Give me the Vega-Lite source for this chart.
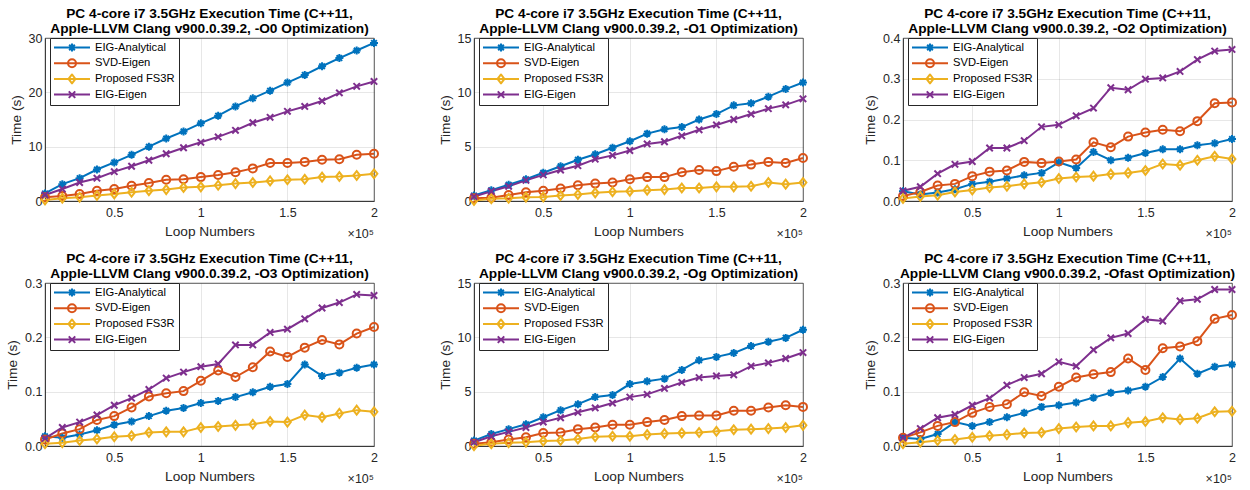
{
"$schema": "https://vega.github.io/schema/vega-lite/v6.json",
"background": "white",
"padding": {"left": 5, "top": 6, "right": 5, "bottom": 5},
"columns": 3,
"spacing": {"row": 82, "column": 100},
"bounds": "flush",
"config": {
  "font": "Liberation Sans",
  "view": {"stroke": "#262626", "strokeWidth": 0.75},
  "axis": {"labelFont": "Liberation Sans", "labelFontSize": 12.5, "labelColor": "#262626", "titleFont": "Liberation Sans", "titleFontSize": 13.7, "titleFontWeight": "normal", "titleColor": "#262626", "domainColor": "#262626", "domainWidth": 0.75, "ticks": false, "gridColor": "#262626", "gridOpacity": 0.15, "gridWidth": 0.75, "labelFlush": false, "labelOverlap": false, "labelBound": false},
  "axisX": {"labelPadding": 5, "titlePadding": 6},
  "axisY": {"labelPadding": 3, "titlePadding": 5},
  "title": {"font": "Liberation Sans", "fontSize": 13.7, "fontWeight": "bold", "color": "black", "lineHeight": 15, "offset": -4}
},
"datasets": {
"O0": [
{"n":10000,"m":"EIG-Analytical","t":1.4},{"n":20000,"m":"EIG-Analytical","t":3.1},{"n":30000,"m":"EIG-Analytical","t":4.2},{"n":40000,"m":"EIG-Analytical","t":5.8},{"n":50000,"m":"EIG-Analytical","t":7.1},{"n":60000,"m":"EIG-Analytical","t":8.5},{"n":70000,"m":"EIG-Analytical","t":10.0},{"n":80000,"m":"EIG-Analytical","t":11.5},{"n":90000,"m":"EIG-Analytical","t":12.8},{"n":100000,"m":"EIG-Analytical","t":14.3},{"n":110000,"m":"EIG-Analytical","t":15.7},{"n":120000,"m":"EIG-Analytical","t":17.4},{"n":130000,"m":"EIG-Analytical","t":18.9},{"n":140000,"m":"EIG-Analytical","t":20.3},{"n":150000,"m":"EIG-Analytical","t":21.8},{"n":160000,"m":"EIG-Analytical","t":23.2},{"n":170000,"m":"EIG-Analytical","t":24.8},{"n":180000,"m":"EIG-Analytical","t":26.3},{"n":190000,"m":"EIG-Analytical","t":27.7},{"n":200000,"m":"EIG-Analytical","t":29.1},
{"n":10000,"m":"SVD-Eigen","t":0.7},{"n":20000,"m":"SVD-Eigen","t":0.9},{"n":30000,"m":"SVD-Eigen","t":1.3},{"n":40000,"m":"SVD-Eigen","t":1.9},{"n":50000,"m":"SVD-Eigen","t":2.2},{"n":60000,"m":"SVD-Eigen","t":2.8},{"n":70000,"m":"SVD-Eigen","t":3.3},{"n":80000,"m":"SVD-Eigen","t":3.9},{"n":90000,"m":"SVD-Eigen","t":4.0},{"n":100000,"m":"SVD-Eigen","t":4.4},{"n":110000,"m":"SVD-Eigen","t":4.8},{"n":120000,"m":"SVD-Eigen","t":5.3},{"n":130000,"m":"SVD-Eigen","t":6.0},{"n":140000,"m":"SVD-Eigen","t":7.0},{"n":150000,"m":"SVD-Eigen","t":7.0},{"n":160000,"m":"SVD-Eigen","t":7.2},{"n":170000,"m":"SVD-Eigen","t":7.6},{"n":180000,"m":"SVD-Eigen","t":7.7},{"n":190000,"m":"SVD-Eigen","t":8.5},{"n":200000,"m":"SVD-Eigen","t":8.7},
{"n":10000,"m":"Proposed FS3R","t":0.2},{"n":20000,"m":"Proposed FS3R","t":0.5},{"n":30000,"m":"Proposed FS3R","t":0.7},{"n":40000,"m":"Proposed FS3R","t":1.0},{"n":50000,"m":"Proposed FS3R","t":1.3},{"n":60000,"m":"Proposed FS3R","t":1.6},{"n":70000,"m":"Proposed FS3R","t":1.9},{"n":80000,"m":"Proposed FS3R","t":2.1},{"n":90000,"m":"Proposed FS3R","t":2.5},{"n":100000,"m":"Proposed FS3R","t":2.6},{"n":110000,"m":"Proposed FS3R","t":2.9},{"n":120000,"m":"Proposed FS3R","t":3.2},{"n":130000,"m":"Proposed FS3R","t":3.4},{"n":140000,"m":"Proposed FS3R","t":3.7},{"n":150000,"m":"Proposed FS3R","t":3.9},{"n":160000,"m":"Proposed FS3R","t":4.0},{"n":170000,"m":"Proposed FS3R","t":4.4},{"n":180000,"m":"Proposed FS3R","t":4.5},{"n":190000,"m":"Proposed FS3R","t":4.7},{"n":200000,"m":"Proposed FS3R","t":5.0},
{"n":10000,"m":"EIG-Eigen","t":1.1},{"n":20000,"m":"EIG-Eigen","t":2.2},{"n":30000,"m":"EIG-Eigen","t":3.4},{"n":40000,"m":"EIG-Eigen","t":4.2},{"n":50000,"m":"EIG-Eigen","t":5.4},{"n":60000,"m":"EIG-Eigen","t":6.4},{"n":70000,"m":"EIG-Eigen","t":7.5},{"n":80000,"m":"EIG-Eigen","t":8.7},{"n":90000,"m":"EIG-Eigen","t":9.8},{"n":100000,"m":"EIG-Eigen","t":10.8},{"n":110000,"m":"EIG-Eigen","t":11.8},{"n":120000,"m":"EIG-Eigen","t":13.0},{"n":130000,"m":"EIG-Eigen","t":14.4},{"n":140000,"m":"EIG-Eigen","t":15.4},{"n":150000,"m":"EIG-Eigen","t":16.5},{"n":160000,"m":"EIG-Eigen","t":17.4},{"n":170000,"m":"EIG-Eigen","t":18.4},{"n":180000,"m":"EIG-Eigen","t":19.9},{"n":190000,"m":"EIG-Eigen","t":21.1},{"n":200000,"m":"EIG-Eigen","t":22.0}
],
"O1": [
{"n":10000,"m":"EIG-Analytical","t":0.5},{"n":20000,"m":"EIG-Analytical","t":1.0},{"n":30000,"m":"EIG-Analytical","t":1.5},{"n":40000,"m":"EIG-Analytical","t":2.0},{"n":50000,"m":"EIG-Analytical","t":2.6},{"n":60000,"m":"EIG-Analytical","t":3.2},{"n":70000,"m":"EIG-Analytical","t":3.8},{"n":80000,"m":"EIG-Analytical","t":4.3},{"n":90000,"m":"EIG-Analytical","t":4.9},{"n":100000,"m":"EIG-Analytical","t":5.5},{"n":110000,"m":"EIG-Analytical","t":6.2},{"n":120000,"m":"EIG-Analytical","t":6.6},{"n":130000,"m":"EIG-Analytical","t":6.8},{"n":140000,"m":"EIG-Analytical","t":7.5},{"n":150000,"m":"EIG-Analytical","t":8.0},{"n":160000,"m":"EIG-Analytical","t":8.8},{"n":170000,"m":"EIG-Analytical","t":9.0},{"n":180000,"m":"EIG-Analytical","t":9.6},{"n":190000,"m":"EIG-Analytical","t":10.3},{"n":200000,"m":"EIG-Analytical","t":10.9},
{"n":10000,"m":"SVD-Eigen","t":0.25},{"n":20000,"m":"SVD-Eigen","t":0.3},{"n":30000,"m":"SVD-Eigen","t":0.55},{"n":40000,"m":"SVD-Eigen","t":0.8},{"n":50000,"m":"SVD-Eigen","t":0.95},{"n":60000,"m":"SVD-Eigen","t":1.15},{"n":70000,"m":"SVD-Eigen","t":1.45},{"n":80000,"m":"SVD-Eigen","t":1.6},{"n":90000,"m":"SVD-Eigen","t":1.7},{"n":100000,"m":"SVD-Eigen","t":2.0},{"n":110000,"m":"SVD-Eigen","t":2.2},{"n":120000,"m":"SVD-Eigen","t":2.2},{"n":130000,"m":"SVD-Eigen","t":2.65},{"n":140000,"m":"SVD-Eigen","t":2.85},{"n":150000,"m":"SVD-Eigen","t":2.75},{"n":160000,"m":"SVD-Eigen","t":3.15},{"n":170000,"m":"SVD-Eigen","t":3.35},{"n":180000,"m":"SVD-Eigen","t":3.6},{"n":190000,"m":"SVD-Eigen","t":3.5},{"n":200000,"m":"SVD-Eigen","t":3.95},
{"n":10000,"m":"Proposed FS3R","t":0.05},{"n":20000,"m":"Proposed FS3R","t":0.2},{"n":30000,"m":"Proposed FS3R","t":0.25},{"n":40000,"m":"Proposed FS3R","t":0.35},{"n":50000,"m":"Proposed FS3R","t":0.37},{"n":60000,"m":"Proposed FS3R","t":0.5},{"n":70000,"m":"Proposed FS3R","t":0.6},{"n":80000,"m":"Proposed FS3R","t":0.75},{"n":90000,"m":"Proposed FS3R","t":0.85},{"n":100000,"m":"Proposed FS3R","t":0.9},{"n":110000,"m":"Proposed FS3R","t":1.0},{"n":120000,"m":"Proposed FS3R","t":1.05},{"n":130000,"m":"Proposed FS3R","t":1.2},{"n":140000,"m":"Proposed FS3R","t":1.2},{"n":150000,"m":"Proposed FS3R","t":1.3},{"n":160000,"m":"Proposed FS3R","t":1.3},{"n":170000,"m":"Proposed FS3R","t":1.35},{"n":180000,"m":"Proposed FS3R","t":1.7},{"n":190000,"m":"Proposed FS3R","t":1.55},{"n":200000,"m":"Proposed FS3R","t":1.7},
{"n":10000,"m":"EIG-Eigen","t":0.4},{"n":20000,"m":"EIG-Eigen","t":0.9},{"n":30000,"m":"EIG-Eigen","t":1.35},{"n":40000,"m":"EIG-Eigen","t":1.9},{"n":50000,"m":"EIG-Eigen","t":2.4},{"n":60000,"m":"EIG-Eigen","t":2.85},{"n":70000,"m":"EIG-Eigen","t":3.25},{"n":80000,"m":"EIG-Eigen","t":3.85},{"n":90000,"m":"EIG-Eigen","t":4.2},{"n":100000,"m":"EIG-Eigen","t":4.65},{"n":110000,"m":"EIG-Eigen","t":5.25},{"n":120000,"m":"EIG-Eigen","t":5.45},{"n":130000,"m":"EIG-Eigen","t":6.0},{"n":140000,"m":"EIG-Eigen","t":6.55},{"n":150000,"m":"EIG-Eigen","t":7.0},{"n":160000,"m":"EIG-Eigen","t":7.5},{"n":170000,"m":"EIG-Eigen","t":8.0},{"n":180000,"m":"EIG-Eigen","t":8.5},{"n":190000,"m":"EIG-Eigen","t":8.85},{"n":200000,"m":"EIG-Eigen","t":9.4}
],
"O2": [
{"n":10000,"m":"EIG-Analytical","t":0.024},{"n":20000,"m":"EIG-Analytical","t":0.016},{"n":30000,"m":"EIG-Analytical","t":0.021},{"n":40000,"m":"EIG-Analytical","t":0.029},{"n":50000,"m":"EIG-Analytical","t":0.042},{"n":60000,"m":"EIG-Analytical","t":0.047},{"n":70000,"m":"EIG-Analytical","t":0.055},{"n":80000,"m":"EIG-Analytical","t":0.063},{"n":90000,"m":"EIG-Analytical","t":0.069},{"n":100000,"m":"EIG-Analytical","t":0.095},{"n":110000,"m":"EIG-Analytical","t":0.081},{"n":120000,"m":"EIG-Analytical","t":0.12},{"n":130000,"m":"EIG-Analytical","t":0.1},{"n":140000,"m":"EIG-Analytical","t":0.106},{"n":150000,"m":"EIG-Analytical","t":0.118},{"n":160000,"m":"EIG-Analytical","t":0.127},{"n":170000,"m":"EIG-Analytical","t":0.127},{"n":180000,"m":"EIG-Analytical","t":0.137},{"n":190000,"m":"EIG-Analytical","t":0.142},{"n":200000,"m":"EIG-Analytical","t":0.152},
{"n":10000,"m":"SVD-Eigen","t":0.012},{"n":20000,"m":"SVD-Eigen","t":0.022},{"n":30000,"m":"SVD-Eigen","t":0.038},{"n":40000,"m":"SVD-Eigen","t":0.042},{"n":50000,"m":"SVD-Eigen","t":0.061},{"n":60000,"m":"SVD-Eigen","t":0.072},{"n":70000,"m":"SVD-Eigen","t":0.075},{"n":80000,"m":"SVD-Eigen","t":0.096},{"n":90000,"m":"SVD-Eigen","t":0.093},{"n":100000,"m":"SVD-Eigen","t":0.097},{"n":110000,"m":"SVD-Eigen","t":0.102},{"n":120000,"m":"SVD-Eigen","t":0.144},{"n":130000,"m":"SVD-Eigen","t":0.132},{"n":140000,"m":"SVD-Eigen","t":0.158},{"n":150000,"m":"SVD-Eigen","t":0.168},{"n":160000,"m":"SVD-Eigen","t":0.175},{"n":170000,"m":"SVD-Eigen","t":0.171},{"n":180000,"m":"SVD-Eigen","t":0.196},{"n":190000,"m":"SVD-Eigen","t":0.24},{"n":200000,"m":"SVD-Eigen","t":0.242},
{"n":10000,"m":"Proposed FS3R","t":0.006},{"n":20000,"m":"Proposed FS3R","t":0.011},{"n":30000,"m":"Proposed FS3R","t":0.014},{"n":40000,"m":"Proposed FS3R","t":0.022},{"n":50000,"m":"Proposed FS3R","t":0.027},{"n":60000,"m":"Proposed FS3R","t":0.033},{"n":70000,"m":"Proposed FS3R","t":0.036},{"n":80000,"m":"Proposed FS3R","t":0.042},{"n":90000,"m":"Proposed FS3R","t":0.046},{"n":100000,"m":"Proposed FS3R","t":0.055},{"n":110000,"m":"Proposed FS3R","t":0.059},{"n":120000,"m":"Proposed FS3R","t":0.061},{"n":130000,"m":"Proposed FS3R","t":0.066},{"n":140000,"m":"Proposed FS3R","t":0.069},{"n":150000,"m":"Proposed FS3R","t":0.075},{"n":160000,"m":"Proposed FS3R","t":0.091},{"n":170000,"m":"Proposed FS3R","t":0.088},{"n":180000,"m":"Proposed FS3R","t":0.1},{"n":190000,"m":"Proposed FS3R","t":0.11},{"n":200000,"m":"Proposed FS3R","t":0.103},
{"n":10000,"m":"EIG-Eigen","t":0.025},{"n":20000,"m":"EIG-Eigen","t":0.035},{"n":30000,"m":"EIG-Eigen","t":0.067},{"n":40000,"m":"EIG-Eigen","t":0.09},{"n":50000,"m":"EIG-Eigen","t":0.097},{"n":60000,"m":"EIG-Eigen","t":0.13},{"n":70000,"m":"EIG-Eigen","t":0.13},{"n":80000,"m":"EIG-Eigen","t":0.148},{"n":90000,"m":"EIG-Eigen","t":0.182},{"n":100000,"m":"EIG-Eigen","t":0.187},{"n":110000,"m":"EIG-Eigen","t":0.209},{"n":120000,"m":"EIG-Eigen","t":0.228},{"n":130000,"m":"EIG-Eigen","t":0.278},{"n":140000,"m":"EIG-Eigen","t":0.273},{"n":150000,"m":"EIG-Eigen","t":0.299},{"n":160000,"m":"EIG-Eigen","t":0.302},{"n":170000,"m":"EIG-Eigen","t":0.318},{"n":180000,"m":"EIG-Eigen","t":0.347},{"n":190000,"m":"EIG-Eigen","t":0.368},{"n":200000,"m":"EIG-Eigen","t":0.372}
],
"O3": [
{"n":10000,"m":"EIG-Analytical","t":0.018},{"n":20000,"m":"EIG-Analytical","t":0.015},{"n":30000,"m":"EIG-Analytical","t":0.021},{"n":40000,"m":"EIG-Analytical","t":0.029},{"n":50000,"m":"EIG-Analytical","t":0.039},{"n":60000,"m":"EIG-Analytical","t":0.045},{"n":70000,"m":"EIG-Analytical","t":0.055},{"n":80000,"m":"EIG-Analytical","t":0.065},{"n":90000,"m":"EIG-Analytical","t":0.07},{"n":100000,"m":"EIG-Analytical","t":0.079},{"n":110000,"m":"EIG-Analytical","t":0.083},{"n":120000,"m":"EIG-Analytical","t":0.09},{"n":130000,"m":"EIG-Analytical","t":0.099},{"n":140000,"m":"EIG-Analytical","t":0.109},{"n":150000,"m":"EIG-Analytical","t":0.114},{"n":160000,"m":"EIG-Analytical","t":0.15},{"n":170000,"m":"EIG-Analytical","t":0.129},{"n":180000,"m":"EIG-Analytical","t":0.135},{"n":190000,"m":"EIG-Analytical","t":0.144},{"n":200000,"m":"EIG-Analytical","t":0.15},
{"n":10000,"m":"SVD-Eigen","t":0.012},{"n":20000,"m":"SVD-Eigen","t":0.023},{"n":30000,"m":"SVD-Eigen","t":0.031},{"n":40000,"m":"SVD-Eigen","t":0.048},{"n":50000,"m":"SVD-Eigen","t":0.055},{"n":60000,"m":"SVD-Eigen","t":0.071},{"n":70000,"m":"SVD-Eigen","t":0.091},{"n":80000,"m":"SVD-Eigen","t":0.097},{"n":90000,"m":"SVD-Eigen","t":0.101},{"n":100000,"m":"SVD-Eigen","t":0.12},{"n":110000,"m":"SVD-Eigen","t":0.139},{"n":120000,"m":"SVD-Eigen","t":0.127},{"n":130000,"m":"SVD-Eigen","t":0.145},{"n":140000,"m":"SVD-Eigen","t":0.174},{"n":150000,"m":"SVD-Eigen","t":0.164},{"n":160000,"m":"SVD-Eigen","t":0.181},{"n":170000,"m":"SVD-Eigen","t":0.195},{"n":180000,"m":"SVD-Eigen","t":0.187},{"n":190000,"m":"SVD-Eigen","t":0.207},{"n":200000,"m":"SVD-Eigen","t":0.219},
{"n":10000,"m":"Proposed FS3R","t":0.004},{"n":20000,"m":"Proposed FS3R","t":0.006},{"n":30000,"m":"Proposed FS3R","t":0.01},{"n":40000,"m":"Proposed FS3R","t":0.013},{"n":50000,"m":"Proposed FS3R","t":0.017},{"n":60000,"m":"Proposed FS3R","t":0.019},{"n":70000,"m":"Proposed FS3R","t":0.025},{"n":80000,"m":"Proposed FS3R","t":0.026},{"n":90000,"m":"Proposed FS3R","t":0.026},{"n":100000,"m":"Proposed FS3R","t":0.034},{"n":110000,"m":"Proposed FS3R","t":0.036},{"n":120000,"m":"Proposed FS3R","t":0.038},{"n":130000,"m":"Proposed FS3R","t":0.04},{"n":140000,"m":"Proposed FS3R","t":0.045},{"n":150000,"m":"Proposed FS3R","t":0.044},{"n":160000,"m":"Proposed FS3R","t":0.057},{"n":170000,"m":"Proposed FS3R","t":0.053},{"n":180000,"m":"Proposed FS3R","t":0.06},{"n":190000,"m":"Proposed FS3R","t":0.066},{"n":200000,"m":"Proposed FS3R","t":0.063},
{"n":10000,"m":"EIG-Eigen","t":0.014},{"n":20000,"m":"EIG-Eigen","t":0.034},{"n":30000,"m":"EIG-Eigen","t":0.044},{"n":40000,"m":"EIG-Eigen","t":0.057},{"n":50000,"m":"EIG-Eigen","t":0.075},{"n":60000,"m":"EIG-Eigen","t":0.088},{"n":70000,"m":"EIG-Eigen","t":0.104},{"n":80000,"m":"EIG-Eigen","t":0.125},{"n":90000,"m":"EIG-Eigen","t":0.136},{"n":100000,"m":"EIG-Eigen","t":0.146},{"n":110000,"m":"EIG-Eigen","t":0.151},{"n":120000,"m":"EIG-Eigen","t":0.186},{"n":130000,"m":"EIG-Eigen","t":0.186},{"n":140000,"m":"EIG-Eigen","t":0.209},{"n":150000,"m":"EIG-Eigen","t":0.215},{"n":160000,"m":"EIG-Eigen","t":0.234},{"n":170000,"m":"EIG-Eigen","t":0.254},{"n":180000,"m":"EIG-Eigen","t":0.264},{"n":190000,"m":"EIG-Eigen","t":0.279},{"n":200000,"m":"EIG-Eigen","t":0.277}
],
"Og": [
{"n":10000,"m":"EIG-Analytical","t":0.5},{"n":20000,"m":"EIG-Analytical","t":1.1},{"n":30000,"m":"EIG-Analytical","t":1.55},{"n":40000,"m":"EIG-Analytical","t":2.0},{"n":50000,"m":"EIG-Analytical","t":2.65},{"n":60000,"m":"EIG-Analytical","t":3.3},{"n":70000,"m":"EIG-Analytical","t":3.85},{"n":80000,"m":"EIG-Analytical","t":4.5},{"n":90000,"m":"EIG-Analytical","t":4.7},{"n":100000,"m":"EIG-Analytical","t":5.7},{"n":110000,"m":"EIG-Analytical","t":5.95},{"n":120000,"m":"EIG-Analytical","t":6.2},{"n":130000,"m":"EIG-Analytical","t":7.0},{"n":140000,"m":"EIG-Analytical","t":7.9},{"n":150000,"m":"EIG-Analytical","t":8.2},{"n":160000,"m":"EIG-Analytical","t":8.55},{"n":170000,"m":"EIG-Analytical","t":9.2},{"n":180000,"m":"EIG-Analytical","t":9.6},{"n":190000,"m":"EIG-Analytical","t":9.95},{"n":200000,"m":"EIG-Analytical","t":10.7},
{"n":10000,"m":"SVD-Eigen","t":0.2},{"n":20000,"m":"SVD-Eigen","t":0.35},{"n":30000,"m":"SVD-Eigen","t":0.6},{"n":40000,"m":"SVD-Eigen","t":0.8},{"n":50000,"m":"SVD-Eigen","t":1.2},{"n":60000,"m":"SVD-Eigen","t":1.25},{"n":70000,"m":"SVD-Eigen","t":1.55},{"n":80000,"m":"SVD-Eigen","t":1.7},{"n":90000,"m":"SVD-Eigen","t":1.95},{"n":100000,"m":"SVD-Eigen","t":1.95},{"n":110000,"m":"SVD-Eigen","t":2.2},{"n":120000,"m":"SVD-Eigen","t":2.4},{"n":130000,"m":"SVD-Eigen","t":2.75},{"n":140000,"m":"SVD-Eigen","t":2.8},{"n":150000,"m":"SVD-Eigen","t":2.8},{"n":160000,"m":"SVD-Eigen","t":3.25},{"n":170000,"m":"SVD-Eigen","t":3.25},{"n":180000,"m":"SVD-Eigen","t":3.55},{"n":190000,"m":"SVD-Eigen","t":3.75},{"n":200000,"m":"SVD-Eigen","t":3.6},
{"n":10000,"m":"Proposed FS3R","t":0.02},{"n":20000,"m":"Proposed FS3R","t":0.2},{"n":30000,"m":"Proposed FS3R","t":0.3},{"n":40000,"m":"Proposed FS3R","t":0.35},{"n":50000,"m":"Proposed FS3R","t":0.45},{"n":60000,"m":"Proposed FS3R","t":0.5},{"n":70000,"m":"Proposed FS3R","t":0.65},{"n":80000,"m":"Proposed FS3R","t":0.85},{"n":90000,"m":"Proposed FS3R","t":0.9},{"n":100000,"m":"Proposed FS3R","t":0.9},{"n":110000,"m":"Proposed FS3R","t":1.05},{"n":120000,"m":"Proposed FS3R","t":1.15},{"n":130000,"m":"Proposed FS3R","t":1.2},{"n":140000,"m":"Proposed FS3R","t":1.25},{"n":150000,"m":"Proposed FS3R","t":1.35},{"n":160000,"m":"Proposed FS3R","t":1.5},{"n":170000,"m":"Proposed FS3R","t":1.55},{"n":180000,"m":"Proposed FS3R","t":1.6},{"n":190000,"m":"Proposed FS3R","t":1.7},{"n":200000,"m":"Proposed FS3R","t":1.9},
{"n":10000,"m":"EIG-Eigen","t":0.35},{"n":20000,"m":"EIG-Eigen","t":0.9},{"n":30000,"m":"EIG-Eigen","t":1.3},{"n":40000,"m":"EIG-Eigen","t":1.7},{"n":50000,"m":"EIG-Eigen","t":2.2},{"n":60000,"m":"EIG-Eigen","t":2.6},{"n":70000,"m":"EIG-Eigen","t":3.1},{"n":80000,"m":"EIG-Eigen","t":3.5},{"n":90000,"m":"EIG-Eigen","t":3.95},{"n":100000,"m":"EIG-Eigen","t":4.5},{"n":110000,"m":"EIG-Eigen","t":4.75},{"n":120000,"m":"EIG-Eigen","t":5.3},{"n":130000,"m":"EIG-Eigen","t":5.85},{"n":140000,"m":"EIG-Eigen","t":6.3},{"n":150000,"m":"EIG-Eigen","t":6.45},{"n":160000,"m":"EIG-Eigen","t":6.55},{"n":170000,"m":"EIG-Eigen","t":7.35},{"n":180000,"m":"EIG-Eigen","t":7.65},{"n":190000,"m":"EIG-Eigen","t":8.05},{"n":200000,"m":"EIG-Eigen","t":8.6}
],
"Ofast": [
{"n":10000,"m":"EIG-Analytical","t":0.015},{"n":20000,"m":"EIG-Analytical","t":0.013},{"n":30000,"m":"EIG-Analytical","t":0.022},{"n":40000,"m":"EIG-Analytical","t":0.044},{"n":50000,"m":"EIG-Analytical","t":0.037},{"n":60000,"m":"EIG-Analytical","t":0.044},{"n":70000,"m":"EIG-Analytical","t":0.053},{"n":80000,"m":"EIG-Analytical","t":0.061},{"n":90000,"m":"EIG-Analytical","t":0.072},{"n":100000,"m":"EIG-Analytical","t":0.075},{"n":110000,"m":"EIG-Analytical","t":0.08},{"n":120000,"m":"EIG-Analytical","t":0.089},{"n":130000,"m":"EIG-Analytical","t":0.098},{"n":140000,"m":"EIG-Analytical","t":0.102},{"n":150000,"m":"EIG-Analytical","t":0.109},{"n":160000,"m":"EIG-Analytical","t":0.127},{"n":170000,"m":"EIG-Analytical","t":0.161},{"n":180000,"m":"EIG-Analytical","t":0.133},{"n":190000,"m":"EIG-Analytical","t":0.146},{"n":200000,"m":"EIG-Analytical","t":0.15},
{"n":10000,"m":"SVD-Eigen","t":0.015},{"n":20000,"m":"SVD-Eigen","t":0.025},{"n":30000,"m":"SVD-Eigen","t":0.037},{"n":40000,"m":"SVD-Eigen","t":0.044},{"n":50000,"m":"SVD-Eigen","t":0.061},{"n":60000,"m":"SVD-Eigen","t":0.072},{"n":70000,"m":"SVD-Eigen","t":0.077},{"n":80000,"m":"SVD-Eigen","t":0.099},{"n":90000,"m":"SVD-Eigen","t":0.092},{"n":100000,"m":"SVD-Eigen","t":0.109},{"n":110000,"m":"SVD-Eigen","t":0.126},{"n":120000,"m":"SVD-Eigen","t":0.132},{"n":130000,"m":"SVD-Eigen","t":0.136},{"n":140000,"m":"SVD-Eigen","t":0.161},{"n":150000,"m":"SVD-Eigen","t":0.14},{"n":160000,"m":"SVD-Eigen","t":0.18},{"n":170000,"m":"SVD-Eigen","t":0.183},{"n":180000,"m":"SVD-Eigen","t":0.193},{"n":190000,"m":"SVD-Eigen","t":0.234},{"n":200000,"m":"SVD-Eigen","t":0.241},
{"n":10000,"m":"Proposed FS3R","t":0.004},{"n":20000,"m":"Proposed FS3R","t":0.007},{"n":30000,"m":"Proposed FS3R","t":0.01},{"n":40000,"m":"Proposed FS3R","t":0.012},{"n":50000,"m":"Proposed FS3R","t":0.016},{"n":60000,"m":"Proposed FS3R","t":0.019},{"n":70000,"m":"Proposed FS3R","t":0.021},{"n":80000,"m":"Proposed FS3R","t":0.024},{"n":90000,"m":"Proposed FS3R","t":0.025},{"n":100000,"m":"Proposed FS3R","t":0.032},{"n":110000,"m":"Proposed FS3R","t":0.035},{"n":120000,"m":"Proposed FS3R","t":0.037},{"n":130000,"m":"Proposed FS3R","t":0.037},{"n":140000,"m":"Proposed FS3R","t":0.043},{"n":150000,"m":"Proposed FS3R","t":0.045},{"n":160000,"m":"Proposed FS3R","t":0.052},{"n":170000,"m":"Proposed FS3R","t":0.049},{"n":180000,"m":"Proposed FS3R","t":0.051},{"n":190000,"m":"Proposed FS3R","t":0.063},{"n":200000,"m":"Proposed FS3R","t":0.064},
{"n":10000,"m":"EIG-Eigen","t":0.015},{"n":20000,"m":"EIG-Eigen","t":0.032},{"n":30000,"m":"EIG-Eigen","t":0.052},{"n":40000,"m":"EIG-Eigen","t":0.058},{"n":50000,"m":"EIG-Eigen","t":0.075},{"n":60000,"m":"EIG-Eigen","t":0.088},{"n":70000,"m":"EIG-Eigen","t":0.112},{"n":80000,"m":"EIG-Eigen","t":0.126},{"n":90000,"m":"EIG-Eigen","t":0.133},{"n":100000,"m":"EIG-Eigen","t":0.155},{"n":110000,"m":"EIG-Eigen","t":0.147},{"n":120000,"m":"EIG-Eigen","t":0.177},{"n":130000,"m":"EIG-Eigen","t":0.199},{"n":140000,"m":"EIG-Eigen","t":0.207},{"n":150000,"m":"EIG-Eigen","t":0.233},{"n":160000,"m":"EIG-Eigen","t":0.23},{"n":170000,"m":"EIG-Eigen","t":0.267},{"n":180000,"m":"EIG-Eigen","t":0.27},{"n":190000,"m":"EIG-Eigen","t":0.288},{"n":200000,"m":"EIG-Eigen","t":0.288}
]
},
"concat": [
{
  "width": 329, "height": 163,
  "title": {"text": ["PC 4-core i7 3.5GHz Execution Time (C++11,", "Apple-LLVM Clang v900.0.39.2, -O0 Optimization)"]},
  "data": {"name": "O0"},
  "encoding": {
    "x": {"field": "n", "type": "quantitative", "scale": {"domain": [10000, 200000], "nice": false, "zero": false}, "axis": {"values": [50000, 100000, 150000, 200000], "labelExpr": "datum.value / 100000", "title": "Loop Numbers"}},
    "y": {"field": "t", "type": "quantitative", "scale": {"domain": [0, 30], "nice": false}, "axis": {"values": [0, 10, 20, 30], "title": "Time (s)"}},
    "color": {"field": "m", "type": "nominal", "scale": {"domain": ["EIG-Analytical", "SVD-Eigen", "Proposed FS3R", "EIG-Eigen"], "range": ["#0072BD", "#D95319", "#EDB120", "#7E2F8E"]}, "legend": null}
  },
  "layer": [
    {"mark": {"type": "line", "strokeWidth": 2}},
    {"mark": {"type": "point", "filled": false, "strokeWidth": 2, "size": 64, "opacity": 1}, "encoding": {"shape": {"field": "m", "type": "nominal", "scale": {"domain": ["EIG-Analytical", "SVD-Eigen", "Proposed FS3R", "EIG-Eigen"], "range": ["M0,-1V1M-1,0H1M-0.7,-0.7L0.7,0.7M-0.7,0.7L0.7,-0.7", "circle", "M-0.85,0L0,-1.1L0.85,0L0,1.1Z", "M-0.8,-0.8L0.8,0.8M-0.8,0.8L0.8,-0.8"]}, "legend": null}}},
    {"mark": {"type": "point", "filled": false, "strokeWidth": 2, "opacity": 0}, "encoding": {
      "shape": {"field": "m", "type": "nominal", "scale": {"domain": ["EIG-Analytical", "SVD-Eigen", "Proposed FS3R", "EIG-Eigen"], "range": ["M-1,0H1M0,-0.222V0.222M-0.222,0H0.222M-0.157,-0.157L0.157,0.157M-0.157,0.157L0.157,-0.157", "M-1,0H1M-0.222,0A0.222,0.222 0 1,0 0.222,0A0.222,0.222 0 1,0 -0.222,0", "M-1,0H1M-0.19,0L0,-0.25L0.19,0L0,0.25Z", "M-1,0H1M-0.18,-0.18L0.18,0.18M-0.18,0.18L0.18,-0.18"]}, "legend": {"title": null, "orient": "none", "legendX": 5, "legendY": 0, "columns": 1, "symbolSize": 1296, "symbolStrokeWidth": 2, "symbolOffset": -1, "labelOffset": 4, "symbolOpacity": 1, "padding": 4, "rowPadding": 3.7, "clipHeight": 11, "strokeColor": "#262626", "fillColor": "white", "labelFontSize": 11.2, "labelFont": "Liberation Sans", "labelColor": "black", "labelAlign": "left", "labelBaseline": "middle", "cornerRadius": 0}},
      "color": {"field": "m", "type": "nominal", "scale": {"domain": ["EIG-Analytical", "SVD-Eigen", "Proposed FS3R", "EIG-Eigen"], "range": ["#0072BD", "#D95319", "#EDB120", "#7E2F8E"]}, "legend": {"title": null, "orient": "none", "legendX": 5, "legendY": 0, "columns": 1, "symbolSize": 1296, "symbolStrokeWidth": 2, "symbolOffset": -1, "labelOffset": 4, "symbolOpacity": 1, "padding": 4, "rowPadding": 3.7, "clipHeight": 11, "strokeColor": "#262626", "fillColor": "white", "labelFontSize": 11.2, "labelFont": "Liberation Sans", "labelColor": "black", "labelAlign": "left", "labelBaseline": "middle", "cornerRadius": 0}}}},
    {"data": {"values": [{"n": 200000, "t": 0, "label": "×10⁵"}]}, "mark": {"type": "text", "align": "right", "baseline": "top", "dy": 27, "fontSize": 12.5, "fill": "#262626", "font": "Liberation Sans"}, "encoding": {"text": {"field": "label"}, "color": {"value": "#262626"}}}
  ],
  "resolve": {"scale": {"color": "independent", "shape": "independent"}}
},
{
  "width": 329, "height": 163,
  "title": {"text": ["PC 4-core i7 3.5GHz Execution Time (C++11,", "Apple-LLVM Clang v900.0.39.2, -O1 Optimization)"]},
  "data": {"name": "O1"},
  "encoding": {
    "x": {"field": "n", "type": "quantitative", "scale": {"domain": [10000, 200000], "nice": false, "zero": false}, "axis": {"values": [50000, 100000, 150000, 200000], "labelExpr": "datum.value / 100000", "title": "Loop Numbers"}},
    "y": {"field": "t", "type": "quantitative", "scale": {"domain": [0, 15], "nice": false}, "axis": {"values": [0, 5, 10, 15], "title": "Time (s)"}},
    "color": {"field": "m", "type": "nominal", "scale": {"domain": ["EIG-Analytical", "SVD-Eigen", "Proposed FS3R", "EIG-Eigen"], "range": ["#0072BD", "#D95319", "#EDB120", "#7E2F8E"]}, "legend": null}
  },
  "layer": [
    {"mark": {"type": "line", "strokeWidth": 2}},
    {"mark": {"type": "point", "filled": false, "strokeWidth": 2, "size": 64, "opacity": 1}, "encoding": {"shape": {"field": "m", "type": "nominal", "scale": {"domain": ["EIG-Analytical", "SVD-Eigen", "Proposed FS3R", "EIG-Eigen"], "range": ["M0,-1V1M-1,0H1M-0.7,-0.7L0.7,0.7M-0.7,0.7L0.7,-0.7", "circle", "M-0.85,0L0,-1.1L0.85,0L0,1.1Z", "M-0.8,-0.8L0.8,0.8M-0.8,0.8L0.8,-0.8"]}, "legend": null}}},
    {"mark": {"type": "point", "filled": false, "strokeWidth": 2, "opacity": 0}, "encoding": {
      "shape": {"field": "m", "type": "nominal", "scale": {"domain": ["EIG-Analytical", "SVD-Eigen", "Proposed FS3R", "EIG-Eigen"], "range": ["M-1,0H1M0,-0.222V0.222M-0.222,0H0.222M-0.157,-0.157L0.157,0.157M-0.157,0.157L0.157,-0.157", "M-1,0H1M-0.222,0A0.222,0.222 0 1,0 0.222,0A0.222,0.222 0 1,0 -0.222,0", "M-1,0H1M-0.19,0L0,-0.25L0.19,0L0,0.25Z", "M-1,0H1M-0.18,-0.18L0.18,0.18M-0.18,0.18L0.18,-0.18"]}, "legend": {"title": null, "orient": "none", "legendX": 5, "legendY": 0, "columns": 1, "symbolSize": 1296, "symbolStrokeWidth": 2, "symbolOffset": -1, "labelOffset": 4, "symbolOpacity": 1, "padding": 4, "rowPadding": 3.7, "clipHeight": 11, "strokeColor": "#262626", "fillColor": "white", "labelFontSize": 11.2, "labelFont": "Liberation Sans", "labelColor": "black", "labelAlign": "left", "labelBaseline": "middle", "cornerRadius": 0}},
      "color": {"field": "m", "type": "nominal", "scale": {"domain": ["EIG-Analytical", "SVD-Eigen", "Proposed FS3R", "EIG-Eigen"], "range": ["#0072BD", "#D95319", "#EDB120", "#7E2F8E"]}, "legend": {"title": null, "orient": "none", "legendX": 5, "legendY": 0, "columns": 1, "symbolSize": 1296, "symbolStrokeWidth": 2, "symbolOffset": -1, "labelOffset": 4, "symbolOpacity": 1, "padding": 4, "rowPadding": 3.7, "clipHeight": 11, "strokeColor": "#262626", "fillColor": "white", "labelFontSize": 11.2, "labelFont": "Liberation Sans", "labelColor": "black", "labelAlign": "left", "labelBaseline": "middle", "cornerRadius": 0}}}},
    {"data": {"values": [{"n": 200000, "t": 0, "label": "×10⁵"}]}, "mark": {"type": "text", "align": "right", "baseline": "top", "dy": 27, "fontSize": 12.5, "fill": "#262626", "font": "Liberation Sans"}, "encoding": {"text": {"field": "label"}, "color": {"value": "#262626"}}}
  ],
  "resolve": {"scale": {"color": "independent", "shape": "independent"}}
},
{
  "width": 329, "height": 163,
  "title": {"text": ["PC 4-core i7 3.5GHz Execution Time (C++11,", "Apple-LLVM Clang v900.0.39.2, -O2 Optimization)"]},
  "data": {"name": "O2"},
  "encoding": {
    "x": {"field": "n", "type": "quantitative", "scale": {"domain": [10000, 200000], "nice": false, "zero": false}, "axis": {"values": [50000, 100000, 150000, 200000], "labelExpr": "datum.value / 100000", "title": "Loop Numbers"}},
    "y": {"field": "t", "type": "quantitative", "scale": {"domain": [0, 0.4], "nice": false}, "axis": {"values": [0, 0.1, 0.2, 0.3, 0.4], "title": "Time (s)"}},
    "color": {"field": "m", "type": "nominal", "scale": {"domain": ["EIG-Analytical", "SVD-Eigen", "Proposed FS3R", "EIG-Eigen"], "range": ["#0072BD", "#D95319", "#EDB120", "#7E2F8E"]}, "legend": null}
  },
  "layer": [
    {"mark": {"type": "line", "strokeWidth": 2}},
    {"mark": {"type": "point", "filled": false, "strokeWidth": 2, "size": 64, "opacity": 1}, "encoding": {"shape": {"field": "m", "type": "nominal", "scale": {"domain": ["EIG-Analytical", "SVD-Eigen", "Proposed FS3R", "EIG-Eigen"], "range": ["M0,-1V1M-1,0H1M-0.7,-0.7L0.7,0.7M-0.7,0.7L0.7,-0.7", "circle", "M-0.85,0L0,-1.1L0.85,0L0,1.1Z", "M-0.8,-0.8L0.8,0.8M-0.8,0.8L0.8,-0.8"]}, "legend": null}}},
    {"mark": {"type": "point", "filled": false, "strokeWidth": 2, "opacity": 0}, "encoding": {
      "shape": {"field": "m", "type": "nominal", "scale": {"domain": ["EIG-Analytical", "SVD-Eigen", "Proposed FS3R", "EIG-Eigen"], "range": ["M-1,0H1M0,-0.222V0.222M-0.222,0H0.222M-0.157,-0.157L0.157,0.157M-0.157,0.157L0.157,-0.157", "M-1,0H1M-0.222,0A0.222,0.222 0 1,0 0.222,0A0.222,0.222 0 1,0 -0.222,0", "M-1,0H1M-0.19,0L0,-0.25L0.19,0L0,0.25Z", "M-1,0H1M-0.18,-0.18L0.18,0.18M-0.18,0.18L0.18,-0.18"]}, "legend": {"title": null, "orient": "none", "legendX": 5, "legendY": 0, "columns": 1, "symbolSize": 1296, "symbolStrokeWidth": 2, "symbolOffset": -1, "labelOffset": 4, "symbolOpacity": 1, "padding": 4, "rowPadding": 3.7, "clipHeight": 11, "strokeColor": "#262626", "fillColor": "white", "labelFontSize": 11.2, "labelFont": "Liberation Sans", "labelColor": "black", "labelAlign": "left", "labelBaseline": "middle", "cornerRadius": 0}},
      "color": {"field": "m", "type": "nominal", "scale": {"domain": ["EIG-Analytical", "SVD-Eigen", "Proposed FS3R", "EIG-Eigen"], "range": ["#0072BD", "#D95319", "#EDB120", "#7E2F8E"]}, "legend": {"title": null, "orient": "none", "legendX": 5, "legendY": 0, "columns": 1, "symbolSize": 1296, "symbolStrokeWidth": 2, "symbolOffset": -1, "labelOffset": 4, "symbolOpacity": 1, "padding": 4, "rowPadding": 3.7, "clipHeight": 11, "strokeColor": "#262626", "fillColor": "white", "labelFontSize": 11.2, "labelFont": "Liberation Sans", "labelColor": "black", "labelAlign": "left", "labelBaseline": "middle", "cornerRadius": 0}}}},
    {"data": {"values": [{"n": 200000, "t": 0, "label": "×10⁵"}]}, "mark": {"type": "text", "align": "right", "baseline": "top", "dy": 27, "fontSize": 12.5, "fill": "#262626", "font": "Liberation Sans"}, "encoding": {"text": {"field": "label"}, "color": {"value": "#262626"}}}
  ],
  "resolve": {"scale": {"color": "independent", "shape": "independent"}}
},
{
  "width": 329, "height": 163,
  "title": {"text": ["PC 4-core i7 3.5GHz Execution Time (C++11,", "Apple-LLVM Clang v900.0.39.2, -O3 Optimization)"]},
  "data": {"name": "O3"},
  "encoding": {
    "x": {"field": "n", "type": "quantitative", "scale": {"domain": [10000, 200000], "nice": false, "zero": false}, "axis": {"values": [50000, 100000, 150000, 200000], "labelExpr": "datum.value / 100000", "title": "Loop Numbers"}},
    "y": {"field": "t", "type": "quantitative", "scale": {"domain": [0, 0.3], "nice": false}, "axis": {"values": [0, 0.1, 0.2, 0.3], "title": "Time (s)"}},
    "color": {"field": "m", "type": "nominal", "scale": {"domain": ["EIG-Analytical", "SVD-Eigen", "Proposed FS3R", "EIG-Eigen"], "range": ["#0072BD", "#D95319", "#EDB120", "#7E2F8E"]}, "legend": null}
  },
  "layer": [
    {"mark": {"type": "line", "strokeWidth": 2}},
    {"mark": {"type": "point", "filled": false, "strokeWidth": 2, "size": 64, "opacity": 1}, "encoding": {"shape": {"field": "m", "type": "nominal", "scale": {"domain": ["EIG-Analytical", "SVD-Eigen", "Proposed FS3R", "EIG-Eigen"], "range": ["M0,-1V1M-1,0H1M-0.7,-0.7L0.7,0.7M-0.7,0.7L0.7,-0.7", "circle", "M-0.85,0L0,-1.1L0.85,0L0,1.1Z", "M-0.8,-0.8L0.8,0.8M-0.8,0.8L0.8,-0.8"]}, "legend": null}}},
    {"mark": {"type": "point", "filled": false, "strokeWidth": 2, "opacity": 0}, "encoding": {
      "shape": {"field": "m", "type": "nominal", "scale": {"domain": ["EIG-Analytical", "SVD-Eigen", "Proposed FS3R", "EIG-Eigen"], "range": ["M-1,0H1M0,-0.222V0.222M-0.222,0H0.222M-0.157,-0.157L0.157,0.157M-0.157,0.157L0.157,-0.157", "M-1,0H1M-0.222,0A0.222,0.222 0 1,0 0.222,0A0.222,0.222 0 1,0 -0.222,0", "M-1,0H1M-0.19,0L0,-0.25L0.19,0L0,0.25Z", "M-1,0H1M-0.18,-0.18L0.18,0.18M-0.18,0.18L0.18,-0.18"]}, "legend": {"title": null, "orient": "none", "legendX": 5, "legendY": 0, "columns": 1, "symbolSize": 1296, "symbolStrokeWidth": 2, "symbolOffset": -1, "labelOffset": 4, "symbolOpacity": 1, "padding": 4, "rowPadding": 3.7, "clipHeight": 11, "strokeColor": "#262626", "fillColor": "white", "labelFontSize": 11.2, "labelFont": "Liberation Sans", "labelColor": "black", "labelAlign": "left", "labelBaseline": "middle", "cornerRadius": 0}},
      "color": {"field": "m", "type": "nominal", "scale": {"domain": ["EIG-Analytical", "SVD-Eigen", "Proposed FS3R", "EIG-Eigen"], "range": ["#0072BD", "#D95319", "#EDB120", "#7E2F8E"]}, "legend": {"title": null, "orient": "none", "legendX": 5, "legendY": 0, "columns": 1, "symbolSize": 1296, "symbolStrokeWidth": 2, "symbolOffset": -1, "labelOffset": 4, "symbolOpacity": 1, "padding": 4, "rowPadding": 3.7, "clipHeight": 11, "strokeColor": "#262626", "fillColor": "white", "labelFontSize": 11.2, "labelFont": "Liberation Sans", "labelColor": "black", "labelAlign": "left", "labelBaseline": "middle", "cornerRadius": 0}}}},
    {"data": {"values": [{"n": 200000, "t": 0, "label": "×10⁵"}]}, "mark": {"type": "text", "align": "right", "baseline": "top", "dy": 27, "fontSize": 12.5, "fill": "#262626", "font": "Liberation Sans"}, "encoding": {"text": {"field": "label"}, "color": {"value": "#262626"}}}
  ],
  "resolve": {"scale": {"color": "independent", "shape": "independent"}}
},
{
  "width": 329, "height": 163,
  "title": {"text": ["PC 4-core i7 3.5GHz Execution Time (C++11,", "Apple-LLVM Clang v900.0.39.2, -Og Optimization)"]},
  "data": {"name": "Og"},
  "encoding": {
    "x": {"field": "n", "type": "quantitative", "scale": {"domain": [10000, 200000], "nice": false, "zero": false}, "axis": {"values": [50000, 100000, 150000, 200000], "labelExpr": "datum.value / 100000", "title": "Loop Numbers"}},
    "y": {"field": "t", "type": "quantitative", "scale": {"domain": [0, 15], "nice": false}, "axis": {"values": [0, 5, 10, 15], "title": "Time (s)"}},
    "color": {"field": "m", "type": "nominal", "scale": {"domain": ["EIG-Analytical", "SVD-Eigen", "Proposed FS3R", "EIG-Eigen"], "range": ["#0072BD", "#D95319", "#EDB120", "#7E2F8E"]}, "legend": null}
  },
  "layer": [
    {"mark": {"type": "line", "strokeWidth": 2}},
    {"mark": {"type": "point", "filled": false, "strokeWidth": 2, "size": 64, "opacity": 1}, "encoding": {"shape": {"field": "m", "type": "nominal", "scale": {"domain": ["EIG-Analytical", "SVD-Eigen", "Proposed FS3R", "EIG-Eigen"], "range": ["M0,-1V1M-1,0H1M-0.7,-0.7L0.7,0.7M-0.7,0.7L0.7,-0.7", "circle", "M-0.85,0L0,-1.1L0.85,0L0,1.1Z", "M-0.8,-0.8L0.8,0.8M-0.8,0.8L0.8,-0.8"]}, "legend": null}}},
    {"mark": {"type": "point", "filled": false, "strokeWidth": 2, "opacity": 0}, "encoding": {
      "shape": {"field": "m", "type": "nominal", "scale": {"domain": ["EIG-Analytical", "SVD-Eigen", "Proposed FS3R", "EIG-Eigen"], "range": ["M-1,0H1M0,-0.222V0.222M-0.222,0H0.222M-0.157,-0.157L0.157,0.157M-0.157,0.157L0.157,-0.157", "M-1,0H1M-0.222,0A0.222,0.222 0 1,0 0.222,0A0.222,0.222 0 1,0 -0.222,0", "M-1,0H1M-0.19,0L0,-0.25L0.19,0L0,0.25Z", "M-1,0H1M-0.18,-0.18L0.18,0.18M-0.18,0.18L0.18,-0.18"]}, "legend": {"title": null, "orient": "none", "legendX": 5, "legendY": 0, "columns": 1, "symbolSize": 1296, "symbolStrokeWidth": 2, "symbolOffset": -1, "labelOffset": 4, "symbolOpacity": 1, "padding": 4, "rowPadding": 3.7, "clipHeight": 11, "strokeColor": "#262626", "fillColor": "white", "labelFontSize": 11.2, "labelFont": "Liberation Sans", "labelColor": "black", "labelAlign": "left", "labelBaseline": "middle", "cornerRadius": 0}},
      "color": {"field": "m", "type": "nominal", "scale": {"domain": ["EIG-Analytical", "SVD-Eigen", "Proposed FS3R", "EIG-Eigen"], "range": ["#0072BD", "#D95319", "#EDB120", "#7E2F8E"]}, "legend": {"title": null, "orient": "none", "legendX": 5, "legendY": 0, "columns": 1, "symbolSize": 1296, "symbolStrokeWidth": 2, "symbolOffset": -1, "labelOffset": 4, "symbolOpacity": 1, "padding": 4, "rowPadding": 3.7, "clipHeight": 11, "strokeColor": "#262626", "fillColor": "white", "labelFontSize": 11.2, "labelFont": "Liberation Sans", "labelColor": "black", "labelAlign": "left", "labelBaseline": "middle", "cornerRadius": 0}}}},
    {"data": {"values": [{"n": 200000, "t": 0, "label": "×10⁵"}]}, "mark": {"type": "text", "align": "right", "baseline": "top", "dy": 27, "fontSize": 12.5, "fill": "#262626", "font": "Liberation Sans"}, "encoding": {"text": {"field": "label"}, "color": {"value": "#262626"}}}
  ],
  "resolve": {"scale": {"color": "independent", "shape": "independent"}}
},
{
  "width": 329, "height": 163,
  "title": {"text": ["PC 4-core i7 3.5GHz Execution Time (C++11,", "Apple-LLVM Clang v900.0.39.2, -Ofast Optimization)"]},
  "data": {"name": "Ofast"},
  "encoding": {
    "x": {"field": "n", "type": "quantitative", "scale": {"domain": [10000, 200000], "nice": false, "zero": false}, "axis": {"values": [50000, 100000, 150000, 200000], "labelExpr": "datum.value / 100000", "title": "Loop Numbers"}},
    "y": {"field": "t", "type": "quantitative", "scale": {"domain": [0, 0.3], "nice": false}, "axis": {"values": [0, 0.1, 0.2, 0.3], "title": "Time (s)"}},
    "color": {"field": "m", "type": "nominal", "scale": {"domain": ["EIG-Analytical", "SVD-Eigen", "Proposed FS3R", "EIG-Eigen"], "range": ["#0072BD", "#D95319", "#EDB120", "#7E2F8E"]}, "legend": null}
  },
  "layer": [
    {"mark": {"type": "line", "strokeWidth": 2}},
    {"mark": {"type": "point", "filled": false, "strokeWidth": 2, "size": 64, "opacity": 1}, "encoding": {"shape": {"field": "m", "type": "nominal", "scale": {"domain": ["EIG-Analytical", "SVD-Eigen", "Proposed FS3R", "EIG-Eigen"], "range": ["M0,-1V1M-1,0H1M-0.7,-0.7L0.7,0.7M-0.7,0.7L0.7,-0.7", "circle", "M-0.85,0L0,-1.1L0.85,0L0,1.1Z", "M-0.8,-0.8L0.8,0.8M-0.8,0.8L0.8,-0.8"]}, "legend": null}}},
    {"mark": {"type": "point", "filled": false, "strokeWidth": 2, "opacity": 0}, "encoding": {
      "shape": {"field": "m", "type": "nominal", "scale": {"domain": ["EIG-Analytical", "SVD-Eigen", "Proposed FS3R", "EIG-Eigen"], "range": ["M-1,0H1M0,-0.222V0.222M-0.222,0H0.222M-0.157,-0.157L0.157,0.157M-0.157,0.157L0.157,-0.157", "M-1,0H1M-0.222,0A0.222,0.222 0 1,0 0.222,0A0.222,0.222 0 1,0 -0.222,0", "M-1,0H1M-0.19,0L0,-0.25L0.19,0L0,0.25Z", "M-1,0H1M-0.18,-0.18L0.18,0.18M-0.18,0.18L0.18,-0.18"]}, "legend": {"title": null, "orient": "none", "legendX": 5, "legendY": 0, "columns": 1, "symbolSize": 1296, "symbolStrokeWidth": 2, "symbolOffset": -1, "labelOffset": 4, "symbolOpacity": 1, "padding": 4, "rowPadding": 3.7, "clipHeight": 11, "strokeColor": "#262626", "fillColor": "white", "labelFontSize": 11.2, "labelFont": "Liberation Sans", "labelColor": "black", "labelAlign": "left", "labelBaseline": "middle", "cornerRadius": 0}},
      "color": {"field": "m", "type": "nominal", "scale": {"domain": ["EIG-Analytical", "SVD-Eigen", "Proposed FS3R", "EIG-Eigen"], "range": ["#0072BD", "#D95319", "#EDB120", "#7E2F8E"]}, "legend": {"title": null, "orient": "none", "legendX": 5, "legendY": 0, "columns": 1, "symbolSize": 1296, "symbolStrokeWidth": 2, "symbolOffset": -1, "labelOffset": 4, "symbolOpacity": 1, "padding": 4, "rowPadding": 3.7, "clipHeight": 11, "strokeColor": "#262626", "fillColor": "white", "labelFontSize": 11.2, "labelFont": "Liberation Sans", "labelColor": "black", "labelAlign": "left", "labelBaseline": "middle", "cornerRadius": 0}}}},
    {"data": {"values": [{"n": 200000, "t": 0, "label": "×10⁵"}]}, "mark": {"type": "text", "align": "right", "baseline": "top", "dy": 27, "fontSize": 12.5, "fill": "#262626", "font": "Liberation Sans"}, "encoding": {"text": {"field": "label"}, "color": {"value": "#262626"}}}
  ],
  "resolve": {"scale": {"color": "independent", "shape": "independent"}}
}
]
}
